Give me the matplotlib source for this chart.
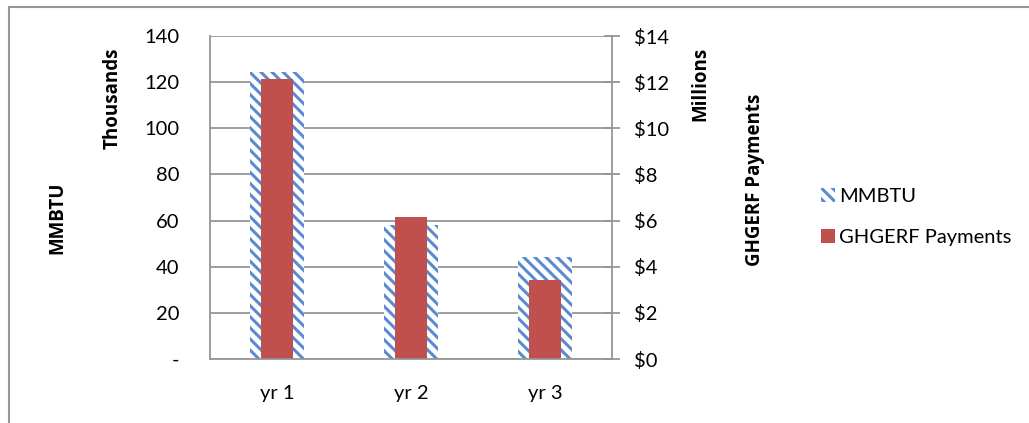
import numpy as np
import matplotlib
matplotlib.use('Agg')
import matplotlib.pyplot as plt
from matplotlib.lines import Line2D
from matplotlib.patches import Patch
from matplotlib.ticker import FuncFormatter

# --------------------------------------------------
# data
# --------------------------------------------------
years = ['yr 1', 'yr 2', 'yr 3']
mmbtu = [124200, 58100, 44300]          # MMBTU
payments = [12.12e6, 6.17e6, 3.42e6]    # GHGERF payments ($)

blue = '#5b8bcf'
red = '#c0504d'
grey = '#969696'

plt.rcParams['font.family'] = ['Lato', 'DejaVu Sans']
plt.rcParams['hatch.linewidth'] = 2.2

fig = plt.figure(figsize=(10.29, 4.23), dpi=100)
ax = fig.add_axes([210 / 1029, 1 - 359 / 423, 402 / 1029, 323 / 423])
ax2 = ax.twinx()

x = np.arange(len(years))
ax.bar(x, np.array(mmbtu) / 1000, width=0.4, color='white', edgecolor=blue,
       hatch='\\\\\\', linewidth=0, zorder=2)
ax2.bar(x, np.array(payments) / 1e6, width=0.235, color=red, zorder=2)

ax.set_xlim(-0.5, 2.5)
ax.set_ylim(0, 140)
ax2.set_ylim(0, 14)
ax.set_yticks(np.arange(0, 141, 20))
ax2.set_yticks(np.arange(0, 15, 2))
ax.yaxis.set_major_formatter(FuncFormatter(lambda v, p: '-' if v == 0 else '%d' % v))
ax2.yaxis.set_major_formatter(FuncFormatter(lambda v, p: '$%d' % v))
ax.set_xticks(x)
ax.set_xticklabels(years)

ax.grid(axis='y', color=grey, linewidth=1.3, zorder=0)
ax.set_axisbelow(True)
for a in (ax, ax2):
    for s in a.spines.values():
        s.set_visible(False)
for s in ('left', 'right', 'bottom'):
    ax2.spines[s].set_visible(True)
    ax2.spines[s].set_color(grey)
    ax2.spines[s].set_linewidth(1.3)

ax.tick_params(axis='y', length=0, pad=22, labelsize=14.5)
ax.tick_params(axis='x', length=0, pad=19, labelsize=14.5)
ax2.tick_params(axis='y', direction='inout', length=11, width=1.3, color=grey,
                pad=10, labelsize=14.5)

lab = dict(rotation=90, fontsize=13.5, fontweight='bold', ha='center',
           va='center', family='Open Sans')
fig.text(57 / 1029, 1 - 218 / 423, 'MMBTU', **lab)
fig.text(113 / 1029, 1 - 98 / 423, 'Thousands', **lab)
fig.text(700 / 1029, 1 - 84 / 423, 'Millions', **lab)
fig.text(755 / 1029, 1 - 180 / 423, 'GHGERF Payments', **lab)

handles = [Patch(facecolor='white', edgecolor=blue, hatch='\\\\\\', linewidth=0),
           Patch(facecolor=red)]
fig.legend(handles, ['MMBTU', 'GHGERF Payments'], loc='center left',
           bbox_to_anchor=(803 / 1029, 1 - 217 / 423), frameon=False,
           fontsize=14.5, handlelength=0.7, handleheight=0.7, handletextpad=0.2,
           labelspacing=1.2)

# outer chart border
fig.add_artist(Line2D([9 / 1029, 9 / 1029], [0, 1 - 7 / 423], color=grey, linewidth=1.5))
fig.add_artist(Line2D([9 / 1029, 1], [1 - 7 / 423, 1 - 7 / 423], color=grey, linewidth=1.5))

fig.savefig('out.png', dpi=100)
